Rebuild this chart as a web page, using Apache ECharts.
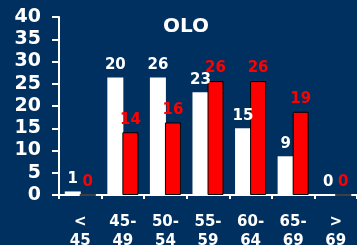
<!DOCTYPE html>
<html><head><meta charset="utf-8">
<script src="https://cdn.jsdelivr.net/npm/echarts@6/dist/echarts.min.js"></script>
<style>html,body{margin:0;padding:0;background:#00305f}#c{width:357px;height:245px}</style>
</head><body><div id="c"></div>
<script>
const categories = ['<\n45', '45-\n49', '50-\n54', '55-\n59', '60-\n64', '65-\n69', '>\n69'];
const whiteValues = [0.8, 26.4, 26.4, 23.1, 15, 8.7, 0];
const redValues = [0, 14.1, 16.3, 25.6, 25.6, 18.7, 0];
const whiteLabels = ['1', '20', '26', '23', '15', '9', '0'];
const redLabels = ['0', '14', '16', '26', '26', '19', '0'];
const yTicks = [0, 5, 10, 15, 20, 25, 30, 35, 40];

const font = 'DejaVu Sans';
const chart = echarts.init(document.getElementById('c'));
chart.setOption({
  backgroundColor: '#00305f',
  animation: false,
  title: { text: 'OLO', left: 158, top: 12, textStyle: { color: '#fff', fontFamily: font, fontWeight: 'bold', fontSize: 20 } },
  grid: { left: 59, right: 0, top: 17, bottom: 50, containLabel: false, outerBoundsMode: 'none' },
  xAxis: {
    type: 'category', data: categories,
    axisLine: { lineStyle: { color: '#fff', width: 2 } },
    axisTick: { show: true, length: 4, lineStyle: { color: '#fff', width: 2 } },
    axisLabel: { color: '#fff', fontFamily: font, fontWeight: 'bold', fontSize: 15, lineHeight: 19, margin: 18, interval: 0 }
  },
  yAxis: {
    type: 'value', min: yTicks[0], max: yTicks[yTicks.length - 1], interval: 5,
    splitLine: { show: false },
    axisLine: { show: true, lineStyle: { color: '#fff', width: 2 } },
    axisTick: { show: true, length: 7, lineStyle: { color: '#fff', width: 2 } },
    axisLabel: { color: '#fff', fontFamily: font, fontWeight: 'bold', fontSize: 19, margin: 18 }
  },
  series: [
    { type: 'bar', data: whiteValues, barWidth: 16, barGap: '-6%',
      itemStyle: { color: '#fff', borderColor: '#333', borderWidth: 0 },
      label: { show: true, position: 'top', distance: 5, color: '#fff', fontFamily: font, fontWeight: 'bold', fontSize: 15,
        formatter: p => whiteLabels[p.dataIndex] } },
    { type: 'bar', data: redValues, barWidth: 16,
      itemStyle: { color: '#ff0000', borderColor: '#000', borderWidth: 1 },
      label: { show: true, position: 'top', distance: 5, color: '#ff0000', fontFamily: font, fontWeight: 'bold', fontSize: 15,
        formatter: p => redLabels[p.dataIndex] } }
  ]
});
</script></body></html>
